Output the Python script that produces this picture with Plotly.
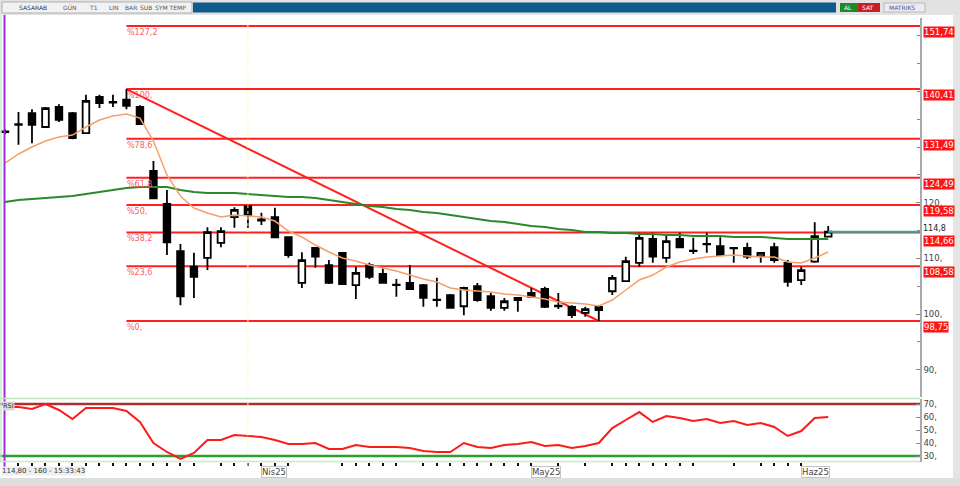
import plotly.graph_objects as go

# ---------------- data ----------------
dates = ["2025-03-04", "2025-03-05", "2025-03-06", "2025-03-07", "2025-03-10", "2025-03-11", "2025-03-12",
         "2025-03-13", "2025-03-14", "2025-03-17", "2025-03-18", "2025-03-19", "2025-03-20", "2025-03-21",
         "2025-03-24", "2025-03-25", "2025-03-26", "2025-03-27", "2025-03-28", "2025-04-02", "2025-04-03",
         "2025-04-04", "2025-04-07", "2025-04-08", "2025-04-09", "2025-04-10", "2025-04-11", "2025-04-14",
         "2025-04-15", "2025-04-16", "2025-04-17", "2025-04-18", "2025-04-21", "2025-04-22", "2025-04-24",
         "2025-04-25", "2025-04-28", "2025-04-29", "2025-04-30", "2025-05-02", "2025-05-05", "2025-05-06",
         "2025-05-07", "2025-05-08", "2025-05-09", "2025-05-12", "2025-05-13", "2025-05-14", "2025-05-15",
         "2025-05-16", "2025-05-20", "2025-05-21", "2025-05-22", "2025-05-23", "2025-05-26", "2025-05-27",
         "2025-05-28", "2025-05-29", "2025-05-30", "2025-06-02", "2025-06-03", "2025-06-04"]

opens = [132.8, 134.0, 136.1, 133.6, 137.2, 136.1, 132.5, 139.0, 138.0, 138.5, 137.2, 125.7, 119.8, 111.3,
         108.5, 110.1, 112.8, 117.4, 119.4, 116.8, 117.4, 113.8, 105.6, 111.9, 108.8, 111.0, 105.2, 108.8,
         107.2, 105.3, 105.6, 105.2, 102.6, 103.4, 101.4, 105.0, 103.2, 101.1, 102.9, 103.8, 104.5, 101.5,
         101.3, 100.2, 101.3, 104.1, 105.9, 109.2, 113.5, 110.1, 113.5, 111.4, 112.5, 112.2, 111.8, 111.9,
         110.4, 112.0, 109.2, 106.1, 109.4, 113.9]
highs = [133.2, 136.3, 136.8, 137.2, 137.7, 136.3, 139.4, 139.4, 139.4, 140.41, 137.5, 127.5, 122.3, 112.6,
         111.0, 115.6, 115.6, 119.2, 119.6, 118.2, 119.1, 113.9, 111.1, 112.0, 109.7, 111.1, 108.5, 109.2,
         108.3, 106.3, 108.8, 105.4, 106.5, 103.6, 104.9, 105.6, 103.8, 102.9, 103.0, 104.7, 104.9, 103.8,
         101.6, 101.3, 101.6, 107.0, 110.3, 114.6, 114.6, 114.4, 114.6, 113.7, 114.6, 113.8, 112.0, 112.8,
         111.0, 112.8, 109.7, 108.5, 116.5, 115.8]
lows = [132.3, 130.4, 130.7, 133.4, 134.5, 131.4, 132.4, 137.0, 137.2, 136.8, 134.0, 120.7, 110.6, 101.6,
        102.9, 107.9, 112.0, 115.5, 115.5, 116.0, 113.7, 110.1, 104.7, 108.3, 105.4, 105.2, 102.7, 106.3,
        105.5, 103.1, 104.3, 101.3, 101.3, 101.0, 99.8, 102.2, 100.6, 100.6, 100.4, 103.0, 101.1, 100.9,
        99.3, 99.5, 98.75, 103.4, 105.8, 108.5, 109.2, 109.2, 111.9, 110.8, 111.0, 110.5, 109.2, 109.9,
        109.2, 109.2, 104.9, 105.2, 109.2, 113.8]
closes = [132.7, 134.1, 134.0, 137.0, 134.9, 131.6, 138.3, 137.9, 138.1, 137.4, 134.1, 120.8, 112.9, 103.2,
          106.7, 114.7, 114.9, 118.7, 117.8, 117.0, 113.8, 110.6, 109.7, 110.3, 105.6, 105.4, 107.4, 106.7,
          105.6, 105.2, 104.5, 102.9, 102.5, 101.1, 104.7, 102.5, 101.1, 102.3, 102.5, 103.1, 101.3, 101.4,
          99.8, 100.9, 100.7, 106.5, 109.5, 113.7, 110.3, 113.1, 112.0, 111.3, 112.6, 110.6, 111.9, 110.3,
          111.0, 109.7, 105.8, 107.9, 114.0, 114.8]

ma_short = [127.13, 128.75, 130.01, 131.08, 131.80, 132.16, 133.60, 134.86, 135.57, 135.93, 135.21, 131.08,
            124.98, 121.20, 119.05, 118.15, 117.43, 117.79, 117.61, 117.43, 116.71, 114.92, 113.84, 112.40,
            111.14, 110.07, 109.53, 108.81, 108.27, 107.73, 107.01, 106.29, 105.76, 104.68, 104.32, 104.14,
            103.96, 103.60, 103.42, 103.06, 102.70, 102.16, 101.98, 101.80, 101.44, 102.52, 104.32, 106.11,
            107.01, 108.45, 109.35, 109.89, 110.25, 110.43, 110.61, 110.43, 110.25, 110.25, 109.35, 109.17,
            110.07, 111.14]
ma_long = [120.13, 120.49, 120.66, 120.84, 121.02, 121.20, 121.56, 121.92, 122.28, 122.64, 122.82, 122.82,
           122.82, 122.28, 121.92, 121.74, 121.74, 121.74, 121.56, 121.38, 121.20, 121.02, 121.02, 120.84,
           120.49, 120.13, 119.77, 119.41, 119.23, 118.87, 118.69, 118.33, 118.15, 117.79, 117.43, 117.07,
           116.71, 116.53, 116.17, 115.81, 115.64, 115.28, 115.10, 114.74, 114.74, 114.56, 114.56, 114.38,
           114.38, 114.20, 114.20, 114.02, 114.02, 114.02, 113.84, 113.84, 113.84, 113.66, 113.48, 113.48,
           113.48, 113.48]
rsi = [67.7, 67.7, 66.2, 70.0, 65.4, 58.5, 66.9, 66.9, 66.9, 64.6, 56.2, 40.0, 33.1, 27.7, 32.3, 42.3, 42.3,
       46.2, 45.4, 44.6, 42.3, 39.2, 39.2, 40.0, 35.4, 35.4, 38.5, 36.9, 36.9, 36.9, 36.2, 33.8, 33.1, 33.1,
       40.0, 36.9, 36.2, 38.5, 39.2, 40.8, 37.7, 38.5, 36.2, 37.7, 40.0, 51.5, 57.7, 63.8, 56.2, 60.8, 59.2,
       56.9, 58.5, 55.4, 56.9, 53.8, 55.4, 52.3, 45.4, 49.2, 59.2, 60.0]

fib_pct_labels = ["%127,2", "%100,", "%78,6", "%61,8", "%50,", "%38,2", "%23,6", "%0,"]
fib_levels = [151.74, 140.41, 131.49, 124.49, 119.58, 114.66, 108.58, 98.75]
fib_value_labels = ["151,74", "140,41", "131,49", "124,49", "119,58", "114,66", "108,58", "98,75"]
swing_high_idx, swing_high = 9, 140.41
swing_low_idx, swing_low = 44, 98.75
marker_idx = 18                      # yellow vertical marker
last_price, last_price_label = 114.8, "114,8"
price_ticks = [90, 100, 110, 120]
price_tick_labels = ["90,", "100,", "110,", "120,"]
rsi_ticks = [30, 40, 50, 60, 70]
rsi_tick_labels = ["30,", "40,", "50,", "60,", "70,"]
rsi_upper, rsi_lower = 70, 30
tick_days = [1, 2, 3, 4, 5, 6, 7, 8, 9, 10, 11, 12, 13, 14, 16, 17, 18, 19, 20, 21, 25, 26, 27, 28, 29, 31,
             32, 33, 34, 35, 36, 37, 38, 39, 41, 43, 45, 46, 47, 48, 49, 50, 51, 54, 56, 57, 58, 59]
month_idx = [19, 39, 59]
month_labels = ["Nis25", "May25", "Haz25"]
status_text = "114,80 - 160 - 15:33:43"

# ---------------- figure ----------------
W, H = 960, 486
def px(x):
    return x / W
def py(y):
    return 1 - y / H

idx = list(range(len(dates)))
X_RANGE = [-0.37, 67.8]
FONT = "DejaVu Sans"

fig = go.Figure()

fig.add_trace(go.Scatter(x=idx, y=ma_long, mode="lines", line=dict(color="#2a8a2a", width=2),
                         hoverinfo="skip", xaxis="x", yaxis="y"))
fig.add_trace(go.Scatter(x=idx, y=ma_short, mode="lines", line=dict(color="#f5a06a", width=1.5),
                         hoverinfo="skip", xaxis="x", yaxis="y"))
fig.add_trace(go.Candlestick(
    x=idx, open=opens, high=highs, low=lows, close=closes, text=dates,
    increasing=dict(line=dict(color="#000000", width=1.8), fillcolor="#ffffff"),
    decreasing=dict(line=dict(color="#000000", width=1.8), fillcolor="#000000"),
    whiskerwidth=0, xaxis="x", yaxis="y"))
fig.add_trace(go.Scatter(x=idx, y=rsi, mode="lines", line=dict(color="#ff1a1a", width=2),
                         hoverinfo="skip", xaxis="x2", yaxis="y2"))

shapes = []
annotations = []

# Fibonacci horizontal levels + diagonal
for lvl in fib_levels:
    shapes.append(dict(type="line", xref="x", yref="y", x0=swing_high_idx, x1=X_RANGE[1], y0=lvl, y1=lvl,
                       line=dict(color="#ff2020", width=2), layer="below"))
shapes.append(dict(type="line", xref="x", yref="y", x0=swing_high_idx, y0=swing_high, x1=swing_low_idx,
                   y1=swing_low, line=dict(color="#ff2020", width=2), layer="below"))
# last price line
shapes.append(dict(type="line", xref="x", yref="y", x0=len(idx) - 1, x1=X_RANGE[1], y0=last_price,
                   y1=last_price, line=dict(color="#3aa8a0", width=2)))
# RSI bands
shapes.append(dict(type="line", xref="x2", yref="y2", x0=X_RANGE[0], x1=X_RANGE[1], y0=rsi_upper, y1=rsi_upper,
                   line=dict(color="#a8322d", width=2.5), layer="below"))
shapes.append(dict(type="line", xref="x2", yref="y2", x0=X_RANGE[0], x1=X_RANGE[1], y0=rsi_lower, y1=rsi_lower,
                   line=dict(color="#2ca02c", width=2.5), layer="below"))
# vertical markers
shapes.append(dict(type="line", xref="x", yref="paper", x0=marker_idx, x1=marker_idx, y0=py(466), y1=py(16),
                   line=dict(color="#ffff70", width=1, dash="dot")))
shapes.append(dict(type="line", xref="paper", yref="paper", x0=px(4.5), x1=px(4.5), y0=py(470), y1=py(15),
                   line=dict(color="#9b30d8", width=2)))
# panel separators
shapes.append(dict(type="line", xref="paper", yref="paper", x0=0, x1=px(920), y0=py(398.5), y1=py(398.5),
                   line=dict(color="#bfe6bf", width=1.5)))
shapes.append(dict(type="line", xref="paper", yref="paper", x0=0, x1=px(920), y0=py(461.5), y1=py(461.5),
                   line=dict(color="#c8eac8", width=1.5)))
shapes.append(dict(type="line", xref="paper", yref="paper", x0=px(1), x1=px(1), y0=py(462), y1=py(15),
                   line=dict(color="#c8eac8", width=1.5)))
# window chrome: toolbar, bottom bar, right strip
shapes.append(dict(type="rect", xref="paper", yref="paper", x0=0, x1=1, y0=py(15), y1=1,
                   fillcolor="#e2e2e2", line=dict(width=0)))
shapes.append(dict(type="rect", xref="paper", yref="paper", x0=px(2), x1=px(192), y0=py(13), y1=py(2),
                   fillcolor="#f2f2f2", line=dict(color="#b0b0b0", width=1)))
shapes.append(dict(type="rect", xref="paper", yref="paper", x0=px(193), x1=px(836), y0=py(12.5), y1=py(2.5),
                   fillcolor="#0e5a8a", line=dict(width=0)))
shapes.append(dict(type="rect", xref="paper", yref="paper", x0=px(840), x1=px(858), y0=py(12), y1=py(3),
                   fillcolor="#1f8a2a", line=dict(width=0)))
shapes.append(dict(type="rect", xref="paper", yref="paper", x0=px(858), x1=px(880), y0=py(12), y1=py(3),
                   fillcolor="#c62020", line=dict(width=0)))
shapes.append(dict(type="rect", xref="paper", yref="paper", x0=px(884), x1=px(925), y0=py(12), y1=py(3),
                   fillcolor="#ececec", line=dict(color="#b8b8b8", width=1)))
shapes.append(dict(type="rect", xref="paper", yref="paper", x0=0, x1=1, y0=0, y1=py(478),
                   fillcolor="#dedede", line=dict(width=0)))
shapes.append(dict(type="rect", xref="paper", yref="paper", x0=px(953), x1=1, y0=py(478), y1=py(15),
                   fillcolor="#e4e4e4", line=dict(width=0)))

def note(x, y, text, size=8, color="#333333", xref="paper", yref="paper", xanchor="left", yanchor="middle",
         bg=None, border=None, xshift=0, yshift=0):
    d = dict(x=x, y=y, xref=xref, yref=yref, text=text, showarrow=False, xanchor=xanchor, yanchor=yanchor,
             font=dict(family=FONT, size=size, color=color), xshift=xshift, yshift=yshift, borderpad=0)
    if bg:
        d["bgcolor"] = bg
    if border:
        d["bordercolor"] = border
        d["borderwidth"] = 1
    annotations.append(d)

# Fibonacci percent labels and value boxes
for lbl, lvl, vtxt in zip(fib_pct_labels, fib_levels, fib_value_labels):
    note(swing_high_idx, lvl, lbl, size=8, color="#ff5c5c", xref="x", yref="y", yanchor="top", yshift=-1)
    shift = -3 if lbl == "%38,2" else 0
    note(px(923), lvl, vtxt, size=8.5, color="#ffffff", yref="y", yanchor="top", bg="#ff1414",
         yshift=shift)
note(px(922), last_price, last_price_label, size=8, color="#222222", yref="y", yanchor="bottom", yshift=-2)

# x-axis month labels and status text
for mi, ml in zip(month_idx, month_labels):
    note(mi, py(472), ml, size=8.5, color="#444444", xref="x2", border="#c4c4c4")
note(px(1), py(471), status_text, size=7, color="#333333", bg="#eeeeee")
note(px(2), py(406), "RSI", size=6.5, color="#333333", bg="#d8d8d8")

# toolbar text
for xx, t, c in [(18, "SASARAB", "#333333"), (62, "GÜN", "#555555"), (88, "T1", "#555555"),
                 (108, "LIN", "#555555"), (124, "BAR", "#555555"), (139, "SUB", "#555555"),
                 (154, "SYM TEMP", "#555555")]:
    note(px(xx), py(7.5), t, size=6, color=c)
note(px(843), py(7.5), "AL", size=6, color="#ffffff")
note(px(861), py(7.5), "SAT", size=6, color="#ffffff")
note(px(888), py(7.5), "MATRIKS", size=6, color="#3a5a9a")

axis_font = dict(family=FONT, size=8.5, color="#444444")
fig.update_layout(
    width=W, height=H, margin=dict(l=0, r=0, t=0, b=0),
    paper_bgcolor="#ffffff", plot_bgcolor="#ffffff", showlegend=False,
    shapes=shapes, annotations=annotations,
    xaxis=dict(domain=[0, px(920)], range=X_RANGE, showticklabels=False, showgrid=False, zeroline=False,
               ticks="", rangeslider=dict(visible=False), anchor="y"),
    xaxis2=dict(domain=[0, px(920)], range=X_RANGE, matches="x", showticklabels=False, showgrid=False,
                zeroline=False, tickmode="array", tickvals=tick_days, ticks="outside", ticklen=3,
                tickwidth=1.5, tickcolor="#111111", anchor="y2"),
    yaxis=dict(domain=[py(397), py(18)], range=[85.10, 153.18], side="right", tickmode="array",
               tickvals=price_ticks, ticktext=price_tick_labels, ticks="inside", ticklen=4,
               tickcolor="#888888", showgrid=False, zeroline=False, showline=True, linecolor="#aaaaaa",
               linewidth=1.5, tickfont=axis_font, anchor="x",
               minor=dict(dtick=5, tick0=0, ticks="inside", ticklen=3, tickcolor="#888888", showgrid=False)),
    yaxis2=dict(domain=[py(462), py(399)], range=[25.4, 73.85], side="right", tickmode="array",
                tickvals=rsi_ticks, ticktext=rsi_tick_labels, ticks="inside", ticklen=4,
                tickcolor="#888888", showgrid=False, zeroline=False, showline=True, linecolor="#aaaaaa",
                linewidth=1.5, tickfont=axis_font, anchor="x2"),
)

fig.write_html("out.html", config={"displayModeBar": False})

# remove the browser's default page margin so the 960x486 figure fills the window exactly
with open("out.html", "r", encoding="utf-8") as f:
    html = f.read()
html = html.replace("<head>", "<head><style>html,body{margin:0;padding:0;overflow:hidden;}</style>", 1)
with open("out.html", "w", encoding="utf-8") as f:
    f.write(html)
